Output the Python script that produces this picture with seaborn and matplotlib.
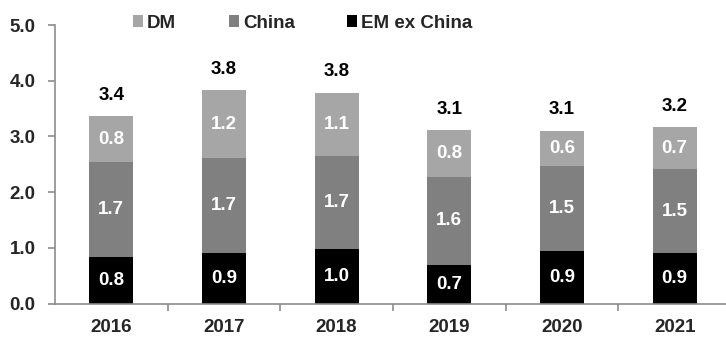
import matplotlib
matplotlib.use("Agg")
import matplotlib.pyplot as plt
from matplotlib.patches import Patch
from matplotlib.ticker import FixedLocator
import numpy as np
import pandas as pd
import seaborn as sns

# Contributions by region, stacked per year
years = ["2016", "2017", "2018", "2019", "2020", "2021"]
em_ex_china = [0.83, 0.90, 0.98, 0.70, 0.94, 0.90]
china = [1.71, 1.71, 1.67, 1.57, 1.52, 1.52]
dm = [0.82, 1.22, 1.13, 0.84, 0.64, 0.74]

series_names = ["DM", "China", "EM ex China"]
colors = {"DM": "#a6a6a6", "China": "#808080", "EM ex China": "#000000"}

sns.set_theme(style="white")
plt.rcParams["font.family"] = ["Liberation Sans Narrow", "Liberation Sans", "DejaVu Sans"]
plt.rcParams["font.weight"] = "bold"

FS = 13.5

df = pd.DataFrame({"year": years, "EM ex China": em_ex_china, "China": china, "DM": dm})
df["lvl1"] = df["EM ex China"]
df["lvl2"] = df["lvl1"] + df["China"]
df["lvl3"] = df["lvl2"] + df["DM"]

fig = plt.figure(figsize=(7.26, 3.37), dpi=100)
ax = fig.add_axes([55 / 726, 1 - 303.5 / 337, 676 / 726, (303.5 - 25) / 337])

bw = 0.39
# Draw cumulative heights back to front so each layer shows as a segment
sns.barplot(data=df, x="year", y="lvl3", color=colors["DM"], width=bw, saturation=1,
            linewidth=0, ax=ax)
sns.barplot(data=df, x="year", y="lvl2", color=colors["China"], width=bw, saturation=1,
            linewidth=0, ax=ax)
sns.barplot(data=df, x="year", y="lvl1", color=colors["EM ex China"], width=bw, saturation=1,
            linewidth=0, ax=ax)

ax.set_xlim(-0.5, 5.5)
ax.set_ylim(0, 5)
ax.set_xlabel("")
ax.set_ylabel("")

# Segment labels and totals
lab_kw = dict(ha="center", va="center", color="white", fontsize=FS, fontweight="bold")
for i in range(len(years)):
    ax.text(i, df["lvl1"][i] / 2, f"{df['EM ex China'][i]:.1f}", **lab_kw)
    ax.text(i, df["lvl1"][i] + df["China"][i] / 2, f"{df['China'][i]:.1f}", **lab_kw)
    ax.text(i, df["lvl2"][i] + df["DM"][i] / 2, f"{df['DM'][i]:.1f}", **lab_kw)
    ax.text(i, df["lvl3"][i] + 0.38, f"{df['lvl3'][i]:.1f}", ha="center", va="center",
            color="black", fontsize=FS, fontweight="bold")

# Axes styling
spine_c = "#8c8c8c"
for s in ["top", "right"]:
    ax.spines[s].set_visible(False)
for s in ["left", "bottom"]:
    ax.spines[s].set_color(spine_c)
    ax.spines[s].set_linewidth(1.2)

yt = np.arange(0, 5.01, 1.0)
ax.set_yticks(yt)
ax.set_yticklabels([f"{v:.1f}" for v in yt])
ax.tick_params(axis="y", which="major", direction="out", length=5, width=1.2,
               color=spine_c, left=True, pad=9, labelsize=FS)
ax.tick_params(axis="x", which="major", length=0, pad=11, labelsize=FS)
ax.xaxis.set_minor_locator(FixedLocator([0.5, 1.5, 2.5, 3.5, 4.5, 5.5]))
ax.tick_params(axis="x", which="minor", direction="out", length=5, width=1.2,
               color=spine_c, bottom=True)
for t in ax.get_xticklabels() + ax.get_yticklabels():
    t.set_fontweight("bold")

handles = [Patch(facecolor=colors[n], edgecolor="none", label=n) for n in series_names]
fig.legend(handles=handles, loc="center left", bbox_to_anchor=(133 / 726, 1 - 23 / 337),
           ncol=3, frameon=False, handlelength=0.55, handleheight=0.55, handletextpad=0.2,
           columnspacing=2.8, borderpad=0, borderaxespad=0,
           prop={"weight": "bold", "size": FS})

fig.savefig("out.png", dpi=100)
